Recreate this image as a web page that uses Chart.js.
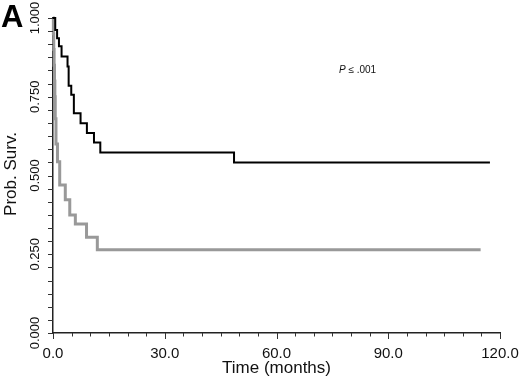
<!DOCTYPE html>
<html>
<head>
<meta charset="utf-8">
<script src="https://cdn.jsdelivr.net/npm/chart.js@4"></script>
<style>
html,body{margin:0;padding:0;background:#fff;}
#wrap{width:520px;height:382px;}
</style>
</head>
<body>
<div id="wrap"><canvas id="c" width="520" height="382"></canvas></div>
<script>
// Kaplan-Meier curves (time in months, survival probability) — drop points
const blackTimes = [0, 0.6, 1.1, 1.6, 2.3, 3.9, 4.2, 4.9, 5.6, 7.4, 9.1, 11.0, 12.7, 48.6, 117.3];
const blackSurv  = [1.000, 0.962, 0.936, 0.910, 0.878, 0.846, 0.785, 0.756, 0.698, 0.666, 0.635, 0.605, 0.573, 0.541, 0.541];
const grayTimes  = [0, 0.1, 0.2, 0.3, 0.4, 0.5, 0.6, 0.8, 1.2, 1.8, 3.3, 4.5, 6.0, 9.0, 11.9, 114.8];
const graySurv   = [1.000, 0.95, 0.90, 0.85, 0.80, 0.75, 0.68, 0.600, 0.544, 0.470, 0.423, 0.375, 0.346, 0.304, 0.264, 0.264];
const xTickLabels = ['0.0', '30.0', '60.0', '90.0', '120.0'];
const yTickLabels = ['0.000', '0.250', '0.500', '0.750', '1.000'];
const xTitle = 'Time (months)';
const yTitle = 'Prob. Surv.';
const panelLabel = 'A';
const pText = '.001';

const FONT = '"Liberation Sans", Arial, Helvetica, sans-serif';

const toPts = (t, s) => t.map((x, i) => ({x: x, y: s[i]}));

const xMinor = []; for (let v = 0; v <= 120 + 1e-9; v += 5) xMinor.push(v);
const yMinor = []; for (let i = 0; i <= 24; i++) yMinor.push(i / 24);

const overlay = {
  id: 'overlay',
  afterDraw(chart) {
    const ctx = chart.ctx;
    const ys = chart.scales.y, xs = chart.scales.x;
    const area = chart.chartArea;
    ctx.save();
    // tick marks
    ctx.strokeStyle = '#333';
    ctx.lineWidth = 1;
    ctx.beginPath();
    xMinor.forEach(v => {
      const px = Math.round(xs.getPixelForValue(v)) + 0.5;
      const major = xTickLabels.some(l => Math.abs(parseFloat(l) - v) < 1e-6);
      ctx.moveTo(px, area.bottom);
      ctx.lineTo(px, area.bottom + (major ? 6 : 3.5));
    });
    yMinor.forEach(v => {
      const py = Math.round(ys.getPixelForValue(v)) + 0.5;
      ctx.moveTo(area.left, py);
      ctx.lineTo(area.left - 5, py);
    });
    ctx.stroke();

    ctx.fillStyle = '#111';
    // x tick labels
    ctx.font = '15px ' + FONT;
    ctx.textAlign = 'center';
    ctx.textBaseline = 'alphabetic';
    xTickLabels.forEach(l => {
      ctx.fillText(l, xs.getPixelForValue(parseFloat(l)), 358);
    });
    // y tick labels, rotated
    ctx.font = '13px ' + FONT;
    ctx.textAlign = 'center';
    ctx.textBaseline = 'middle';
    yTickLabels.forEach(l => {
      const py = ys.getPixelForValue(parseFloat(l));
      ctx.save();
      ctx.translate(35, py);
      ctx.rotate(-Math.PI / 2);
      ctx.fillText(l, 0, 0);
      ctx.restore();
    });
    // y title
    ctx.font = '17px ' + FONT;
    ctx.save();
    ctx.translate(11, 174);
    ctx.rotate(-Math.PI / 2);
    ctx.fillText(yTitle, 0, 0);
    ctx.restore();
    // x title
    ctx.textBaseline = 'alphabetic';
    ctx.fillText(xTitle, (xs.left + xs.right) / 2, 373);
    // panel label
    ctx.font = 'bold 31px ' + FONT;
    ctx.textAlign = 'left';
    ctx.fillStyle = '#000';
    ctx.fillText(panelLabel, 1, 27);
    // P value
    ctx.fillStyle = '#111';
    ctx.font = 'italic 10px ' + FONT;
    ctx.textBaseline = 'middle';
    ctx.fillText('P', 339, 70);
    const pw = ctx.measureText('P').width;
    ctx.font = '10px ' + FONT;
    ctx.fillText(' \u2264 ' + pText, 339 + pw, 70);
    ctx.restore();
  }
};

new Chart(document.getElementById('c'), {
  type: 'line',
  data: {
    datasets: [
      {
        label: 'black',
        data: toPts(blackTimes, blackSurv),
        borderColor: '#000',
        borderWidth: 2,
        stepped: 'before',
        pointRadius: 0,
        fill: false,
        clip: 6
      },
      {
        label: 'gray',
        data: toPts(grayTimes, graySurv),
        borderColor: '#999999',
        borderWidth: 3,
        stepped: 'before',
        pointRadius: 0,
        fill: false,
        clip: 6
      }
    ]
  },
  options: {
    responsive: false,
    animation: false,
    events: [],
    layout: {padding: {top: 18, right: 20, left: 0, bottom: 0}},
    plugins: {legend: {display: false}, tooltip: {enabled: false}, title: {display: false}},
    scales: {
      x: {
        type: 'linear',
        min: 0, max: 120,
        afterBuildTicks: s => { s.ticks = xMinor.map(v => ({value: v})); },
        afterFit: s => { s.height = 49; },
        border: {display: true, color: '#222', width: 1.5},
        grid: {drawOnChartArea: false, drawTicks: false},
        ticks: {display: false}
      },
      y: {
        type: 'linear',
        min: 0, max: 1,
        afterBuildTicks: s => { s.ticks = yMinor.map(v => ({value: v})); },
        afterFit: s => { s.width = 53; },
        border: {display: true, color: '#222', width: 1.5},
        grid: {drawOnChartArea: false, drawTicks: false},
        ticks: {display: false}
      }
    }
  },
  plugins: [overlay]
});
</script>
</body>
</html>
